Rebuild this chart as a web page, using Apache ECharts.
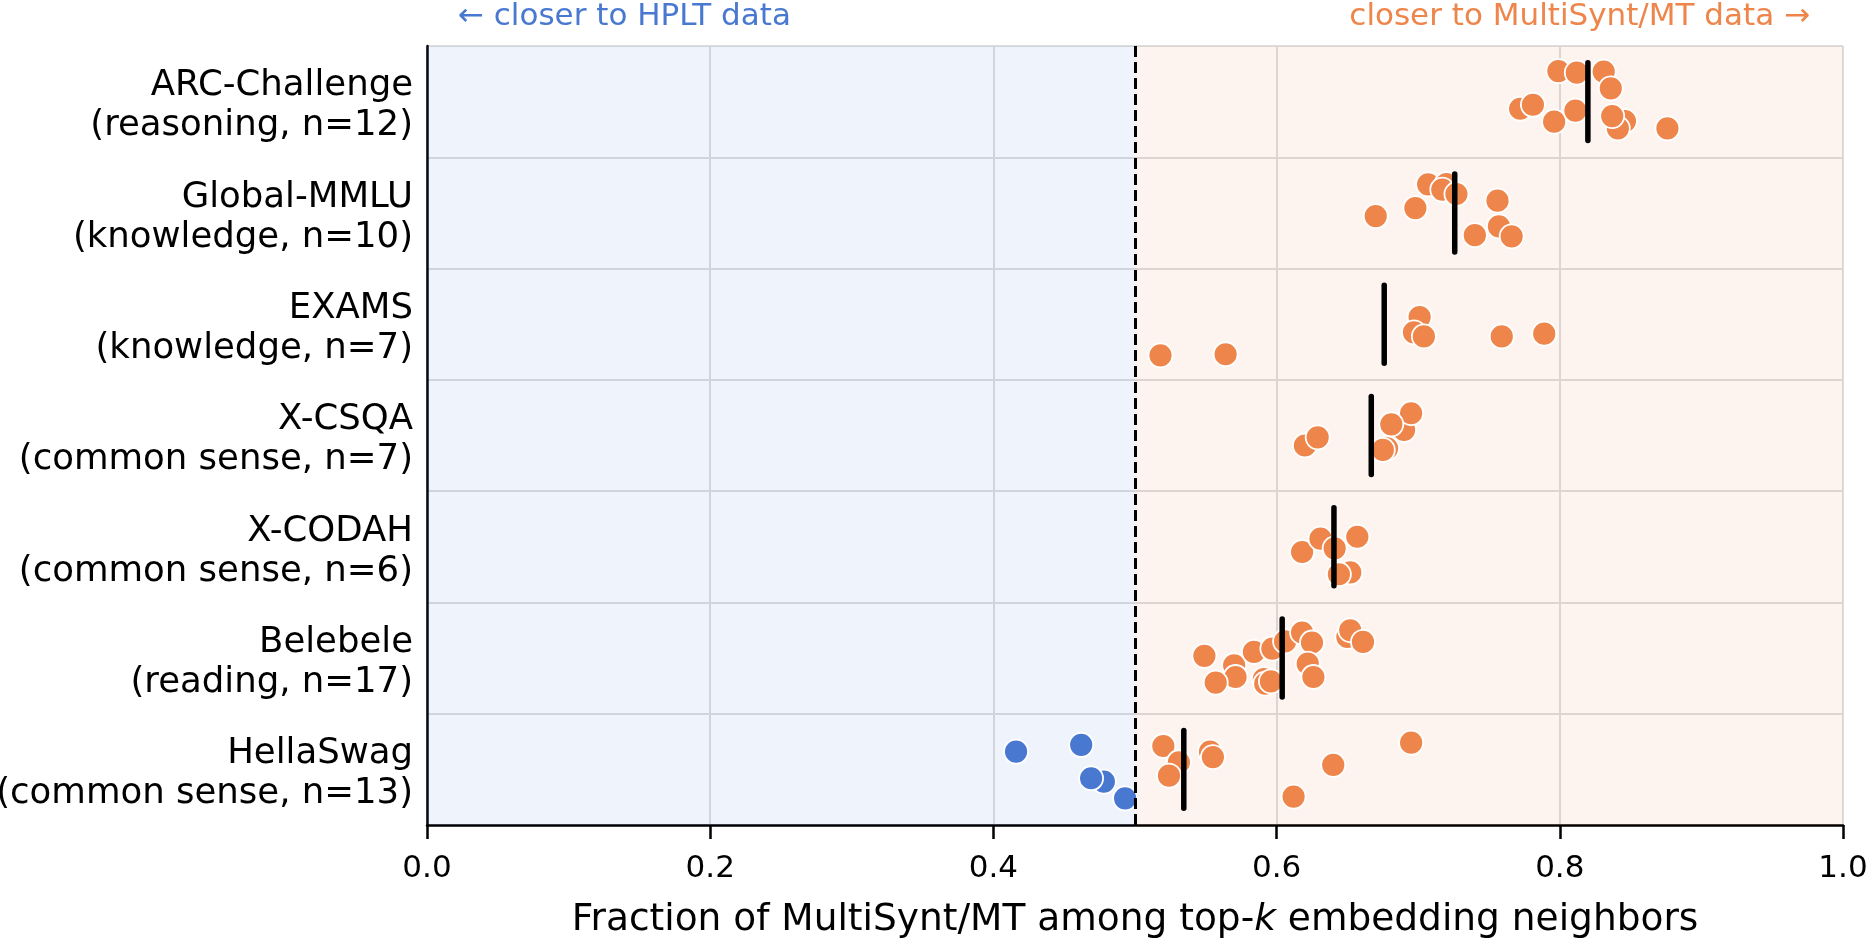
<!DOCTYPE html>
<html>
<head>
<meta charset="utf-8">
<script src="https://cdn.jsdelivr.net/npm/echarts@6/dist/echarts.min.js"></script>
<style>
html,body{margin:0;padding:0;background:#fff;}
#chart{width:1869px;height:941px;}
</style>
</head>
<body>
<div id="chart"></div>
<script>
// rows, top to bottom
var benchmarks = [
	'ARC-Challenge\n(reasoning, n=12)',
	'Global-MMLU\n(knowledge, n=10)',
	'EXAMS\n(knowledge, n=7)',
	'X-CSQA\n(common sense, n=7)',
	'X-CODAH\n(common sense, n=6)',
	'Belebele\n(reading, n=17)',
	'HellaSwag\n(common sense, n=13)'
];
var xTicks = [0, 0.2, 0.4, 0.6, 0.8, 1.0];

// fraction per language, and the vertical jitter of each dot (in row units)
var arcValues = [0.799, 0.812, 0.831, 0.836, 0.772, 0.781, 0.796, 0.811, 0.846, 0.841, 0.837, 0.876];
var arcJitter = [-0.275, -0.26, -0.27, -0.12, 0.064, 0.028, 0.18, 0.08, 0.175, 0.24, 0.13, 0.24];
var mmluValues = [0.670, 0.698, 0.707, 0.720, 0.717, 0.727, 0.756, 0.740, 0.757, 0.766];
var mmluJitter = [0.028, -0.044, -0.257, -0.26, -0.21, -0.17, -0.11, 0.2, 0.12, 0.21];
var examsValues = [0.518, 0.564, 0.701, 0.697, 0.704, 0.759, 0.789];
var examsJitter = [0.28, 0.27, -0.065, 0.073, 0.11, 0.11, 0.085];
var csqaValues = [0.620, 0.629, 0.690, 0.695, 0.681, 0.678, 0.675];
var csqaJitter = [0.09, 0.016, -0.05, -0.2, -0.1, 0.115, 0.13];
var codahValues = [0.618, 0.631, 0.657, 0.641, 0.652, 0.644];
var codahJitter = [0.047, -0.073, -0.09, 0.014, 0.23, 0.247];
var belebeleValues = [0.549, 0.570, 0.571, 0.557, 0.584, 0.591, 0.592, 0.596, 0.597, 0.606, 0.618, 0.625, 0.622, 0.626, 0.650, 0.652, 0.661];
var belebeleJitter = [-0.02, 0.065, 0.17, 0.22, -0.055, 0.19, 0.23, 0.21, -0.085, -0.15, -0.23, -0.14, 0.05, 0.17, -0.19, -0.25, -0.145];
var hellaValues = [0.416, 0.462, 0.478, 0.469, 0.493, 0.520, 0.531, 0.524, 0.553, 0.555, 0.640, 0.695, 0.612];
var hellaJitter = [-0.16, -0.22, 0.11, 0.08, 0.26, -0.21, -0.064, 0.057, -0.16, -0.11, -0.04, -0.24, 0.245];

var rowValues = [arcValues, mmluValues, examsValues, csqaValues, codahValues, belebeleValues, hellaValues];
var rowJitter = [arcJitter, mmluJitter, examsJitter, csqaJitter, codahJitter, belebeleJitter, hellaJitter];

var BLUE = '#4878d0', ORANGE = '#ee854a';
var FONT = 'DejaVu Sans';

var hpltSide = [], synthSide = [], means = [];
rowValues.forEach(function(vals, row){
	var sum = 0;
	vals.forEach(function(v, i){
		sum += v;
		var p = [v, row + rowJitter[row][i]];
		if (v < 0.5) hpltSide.push(p); else synthSide.push(p);
	});
	means.push([sum / vals.length, row]);
});

var labelLine = {color: '#000', fontSize: 35.5, fontFamily: FONT};

var chart = echarts.init(document.getElementById('chart'));
var option = {
	animation: false,
	textStyle: {fontFamily: FONT},
	title: [
		{text: '\u2190 closer to HPLT data', left: 453, top: -4,
			textStyle: {color: BLUE, fontSize: 31, fontWeight: 'normal', fontFamily: FONT}},
		{text: 'closer to MultiSynt/MT data \u2192', right: 54, top: -4,
			textStyle: {color: ORANGE, fontSize: 31, fontWeight: 'normal', fontFamily: FONT}}
	],
	grid: {left: 427, right: 26, top: 46, bottom: 116, outerBoundsMode: 'none', containLabel: false},
	xAxis: {
		type: 'value', min: 0, max: 1, interval: 0.2,
		name: 'Fraction of MultiSynt/MT among top-{i|k} embedding neighbors',
		nameLocation: 'middle', nameGap: 76,
		nameTextStyle: {color: '#000', fontSize: 37.5, fontFamily: FONT,
			rich: {i: {fontStyle: 'italic', fontSize: 37.5, fontFamily: FONT, color: '#000'}}},
		axisLine: {show: true, onZero: false, lineStyle: {color: '#000', width: 2.5}},
		axisTick: {show: true, length: 14, lineStyle: {color: '#000', width: 2.5}},
		axisLabel: {color: '#000', fontSize: 31, margin: 28, fontFamily: FONT,
			formatter: function(v){ return v.toFixed(1); }},
		splitLine: {show: true, lineStyle: {color: '#dddddd', width: 2}}
	},
	yAxis: [
		{
			type: 'category', data: benchmarks, inverse: true,
			axisLine: {show: true, onZero: false, lineStyle: {color: '#000', width: 2.5}},
			axisTick: {show: false},
			axisLabel: {
				color: '#000', fontSize: 35.5, margin: 14, fontFamily: FONT,
				formatter: function(v){
					var p = v.split('\n');
					return '{a|' + p[0] + '}\n{b|' + p[1] + '}';
				},
				rich: {
					a: Object.assign({lineHeight: 49}, labelLine),
					b: Object.assign({lineHeight: 31}, labelLine)
				}
			},
			splitLine: {show: true, lineStyle: {color: '#dddddd', width: 2}}
		},
		{type: 'value', min: -0.5, max: 6.5, inverse: true, show: false}
	],
	series: [
		{
			type: 'scatter', yAxisIndex: 1, data: [], silent: true,
			markArea: {
				silent: true,
				data: [
					[{xAxis: 0, itemStyle: {color: 'rgba(72,120,208,0.085)'}}, {xAxis: 0.5}],
					[{xAxis: 0.5, itemStyle: {color: 'rgba(238,133,74,0.085)'}}, {xAxis: 1}]
				]
			},
			markLine: {
				silent: true, symbol: 'none', label: {show: false},
				lineStyle: {color: '#000', width: 3, type: [11, 5]},
				data: [{xAxis: 0.5}]
			}
		},
		{
			name: 'HPLT', type: 'scatter', yAxisIndex: 1, data: hpltSide,
			symbolSize: 24, z: 3,
			itemStyle: {color: BLUE, borderColor: '#fff', borderWidth: 1.8, opacity: 1}
		},
		{
			name: 'MultiSynt/MT', type: 'scatter', yAxisIndex: 1, data: synthSide,
			symbolSize: 24, z: 3,
			itemStyle: {color: ORANGE, borderColor: '#fff', borderWidth: 1.8, opacity: 1}
		},
		{
			name: 'mean', type: 'custom', yAxisIndex: 1, data: means, z: 5,
			renderItem: function(params, api){
				var a = api.coord([api.value(0), api.value(1) - 0.35]);
				var b = api.coord([api.value(0), api.value(1) + 0.35]);
				return {
					type: 'line',
					shape: {x1: a[0], y1: a[1], x2: b[0], y2: b[1]},
					style: {stroke: '#000', lineWidth: 5.5, lineCap: 'round'}
				};
			}
		}
	]
};
chart.setOption(option);
</script>
</body>
</html>
